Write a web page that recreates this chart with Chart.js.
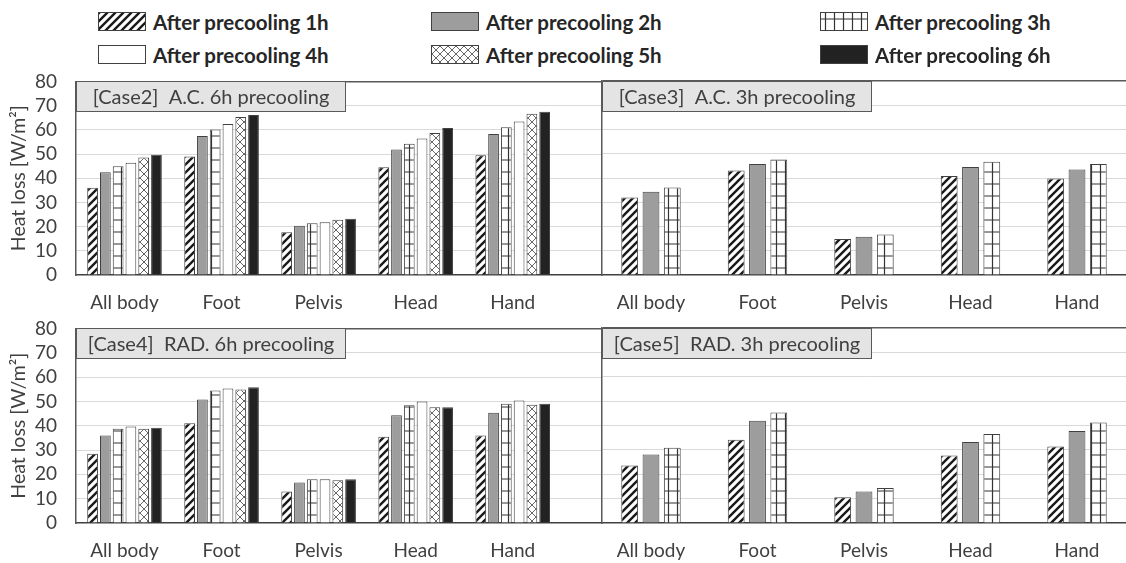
<!DOCTYPE html>
<html><head><meta charset="utf-8">
<script src="https://cdn.jsdelivr.net/npm/chart.js@4.4.1/dist/chart.umd.min.js"></script>
<style>
html,body{margin:0;padding:0;background:#fff;width:1126px;height:563px;overflow:hidden;position:relative;font-family:Lato,sans-serif}
canvas.chart{position:absolute;display:block}
.leg{position:absolute;display:flex;align-items:center;font-weight:bold;font-size:20.5px;color:#262626;white-space:nowrap;height:19px}
.leg canvas{border:1px solid #404040;margin-right:7px;display:block}
</style></head><body>
<canvas id="c2" class="chart" width="602" height="250" style="left:0;top:70px;width:602px;height:250px"></canvas>
<canvas id="c3" class="chart" width="525" height="250" style="left:601px;top:70px;width:525px;height:250px"></canvas>
<canvas id="c4" class="chart" width="602" height="251" style="left:0;top:317px;width:602px;height:251px"></canvas>
<canvas id="c5" class="chart" width="525" height="251" style="left:601px;top:317px;width:525px;height:251px"></canvas>
<div id="legend"></div>
<script>
// ---------- data ----------
const categories = ['All body', 'Foot', 'Pelvis', 'Head', 'Hand'];
const seriesLabels = ['After precooling 1h', 'After precooling 2h', 'After precooling 3h',
                      'After precooling 4h', 'After precooling 5h', 'After precooling 6h'];
const yTicks = [0, 10, 20, 30, 40, 50, 60, 70, 80];
const caseTitles = ['[Case2]  A.C. 6h precooling', '[Case3]  A.C. 3h precooling',
                    '[Case4]  RAD. 6h precooling', '[Case5]  RAD. 3h precooling'];
const yTitle = 'Heat loss [W/m²]';

const case2_h1 = [36.1, 49.0, 17.7, 44.5, 49.5];
const case2_h2 = [42.5, 57.4, 20.4, 51.9, 58.3];
const case2_h3 = [44.9, 60.1, 21.4, 54.2, 61.1];
const case2_h4 = [46.4, 62.4, 21.8, 56.4, 63.4];
const case2_h5 = [48.6, 65.3, 22.8, 58.7, 66.6];
const case2_h6 = [49.7, 66.1, 23.2, 60.7, 67.5];

const case3_h1 = [32.0, 43.1, 14.8, 40.8, 39.8];
const case3_h2 = [34.3, 45.8, 15.8, 44.5, 43.5];
const case3_h3 = [36.1, 47.6, 16.7, 46.7, 45.8];

const case4_h1 = [28.5, 41.0, 12.9, 35.5, 36.0];
const case4_h2 = [36.0, 50.8, 16.6, 44.3, 45.3];
const case4_h3 = [38.7, 54.5, 18.0, 48.4, 49.0];
const case4_h4 = [39.7, 55.3, 18.0, 49.9, 50.4];
const case4_h5 = [38.7, 54.9, 17.6, 47.6, 48.6];
const case4_h6 = [39.2, 55.8, 18.0, 47.6, 49.0];

const case5_h1 = [23.6, 34.2, 10.6, 27.7, 31.4];
const case5_h2 = [28.1, 42.0, 12.9, 33.2, 37.7];
const case5_h3 = [30.9, 45.3, 14.4, 36.5, 41.2];

// ---------- styles ----------
const FONT = 'Lato, sans-serif';
const TXT = '#404040';
const EDGE = '#404040';
const NONE = 'rgba(0,0,0,0)';

function tile(w, h, draw) {
  const c = document.createElement('canvas');
  c.width = w; c.height = h;
  const g = c.getContext('2d');
  g.fillStyle = '#fff'; g.fillRect(0, 0, w, h);
  draw(g, w, h);
  return g.createPattern(c, 'repeat');
}
const patHatch = tile(8, 8, (g) => {
  g.strokeStyle = '#1a1a1a'; g.lineWidth = 2.4; g.beginPath();
  g.moveTo(-2, 10); g.lineTo(10, -2);
  g.moveTo(-2, 2); g.lineTo(2, -2);
  g.moveTo(6, 10); g.lineTo(10, 6);
  g.stroke();
});
const patGrid = tile(9, 12, (g) => {
  g.strokeStyle = '#333'; g.lineWidth = 1.2; g.beginPath();
  g.moveTo(4.5, 0); g.lineTo(4.5, 12);
  g.moveTo(0, 6); g.lineTo(9, 6);
  g.stroke();
});
const patCross = tile(8, 8, (g) => {
  g.strokeStyle = '#555'; g.lineWidth = 0.9; g.beginPath();
  g.moveTo(0, 0); g.lineTo(8, 8);
  g.moveTo(8, 0); g.lineTo(0, 8);
  g.stroke();
});
const fills = [patHatch, '#9d9d9d', patGrid, '#ffffff', patCross, '#222222'];

// ---------- legend ----------
const legendCols = [98, 431, 820];
const legendRows = [12, 45];
const legendEl = document.getElementById('legend');
seriesLabels.forEach((lab, i) => {
  const d = document.createElement('div');
  d.className = 'leg';
  d.style.left = legendCols[i % 3] + 'px';
  d.style.top = legendRows[Math.floor(i / 3)] + 'px';
  const sw = document.createElement('canvas');
  sw.width = 46; sw.height = 17;
  const g = sw.getContext('2d');
  g.fillStyle = fills[i]; g.fillRect(0, 0, 46, 17);
  d.appendChild(sw);
  const t = document.createElement('span');
  t.textContent = lab;
  d.appendChild(t);
  legendEl.appendChild(d);
});

// ---------- charts ----------
const titleBox = {
  id: 'titleBox',
  afterDraw(chart, args, opts) {
    const { ctx, chartArea } = chart;
    const x = Math.round(chartArea.left) + 0.5, y = Math.round(chartArea.top) + 0.5;
    const w = 269, h = 30;
    ctx.save();
    ctx.fillStyle = '#e4e4e4';
    ctx.fillRect(x, y, w, h);
    ctx.strokeStyle = '#595959'; ctx.lineWidth = 1;
    ctx.strokeRect(x, y, w, h);
    ctx.fillStyle = TXT;
    ctx.font = '20px ' + FONT;
    ctx.textAlign = 'center'; ctx.textBaseline = 'middle';
    ctx.fillText(opts.text, x + w / 2, y + h / 2 + 1);
    ctx.restore();
  }
};

function makeChart(id, seriesArrays, title, left, xmin, xmax, catPct, barPct) {
  const datasets = seriesArrays.map((arr, i) => ({
    label: seriesLabels[i],
    data: arr.map((v, k) => ({ x: k, y: v })),
    backgroundColor: fills[i],
    borderColor: EDGE,
    borderWidth: 1,
    categoryPercentage: catPct,
    barPercentage: barPct
  }));
  return new Chart(document.getElementById(id), {
    type: 'bar',
    data: { datasets },
    plugins: [titleBox],
    options: {
      responsive: false,
      animation: false,
      devicePixelRatio: 1,
      layout: { padding: { top: 11, left: 0, right: 0, bottom: 0 } },
      plugins: {
        legend: { display: false },
        tooltip: { enabled: false },
        titleBox: { text: title }
      },
      scales: {
        x: {
          type: 'linear',
          bounds: 'data',
          offset: false,
          min: xmin, max: xmax,
          afterBuildTicks: (s) => { s.ticks = categories.map((c, i) => ({ value: i })); },
          afterFit: (s) => { s.height = 45; s.paddingLeft = 0; s.paddingRight = 0; },
          ticks: {
            callback: (v) => categories[v],
            autoSkip: false, maxRotation: 0, minRotation: 0,
            font: { family: FONT, size: 19 }, color: TXT, padding: 0
          },
          grid: { display: false, drawTicks: true, tickLength: 16, tickColor: NONE, offset: false },
          border: { display: true, color: '#404040', width: 1.5 }
        },
        y: {
          min: 0, max: 80,
          afterBuildTicks: (s) => { s.ticks = yTicks.map((v) => ({ value: v })); },
          afterFit: (s) => { s.width = left ? 76 : 1; },
          ticks: {
            display: left, autoSkip: false,
            font: { family: FONT, size: 19 }, color: TXT, padding: 0
          },
          title: {
            display: left, text: yTitle,
            font: { family: FONT, size: 19.5 }, color: TXT,
            padding: { top: 7, bottom: 0 }
          },
          grid: {
            drawTicks: true, tickLength: 19, tickColor: NONE,
            color: (c) => (c.tick && c.tick.value === 80) ? '#595959' : (c.tick && c.tick.value === 0 ? NONE : '#d9d9d9'),
            lineWidth: (c) => (c.tick && c.tick.value === 80) ? 1.5 : 1
          },
          border: { display: true, color: '#595959', width: 1.5 }
        }
      }
    }
  });
}

makeChart('c2', [case2_h1, case2_h2, case2_h3, case2_h4, case2_h5, case2_h6], caseTitles[0], true, -0.5, 4.92, 0.79, 0.84);
makeChart('c3', [case3_h1, case3_h2, case3_h3], caseTitles[1], false, -0.46, 4.46, 0.6, 0.79);
makeChart('c4', [case4_h1, case4_h2, case4_h3, case4_h4, case4_h5, case4_h6], caseTitles[2], true, -0.5, 4.92, 0.79, 0.84);
makeChart('c5', [case5_h1, case5_h2, case5_h3], caseTitles[3], false, -0.46, 4.46, 0.6, 0.79);
</script>
</body></html>
